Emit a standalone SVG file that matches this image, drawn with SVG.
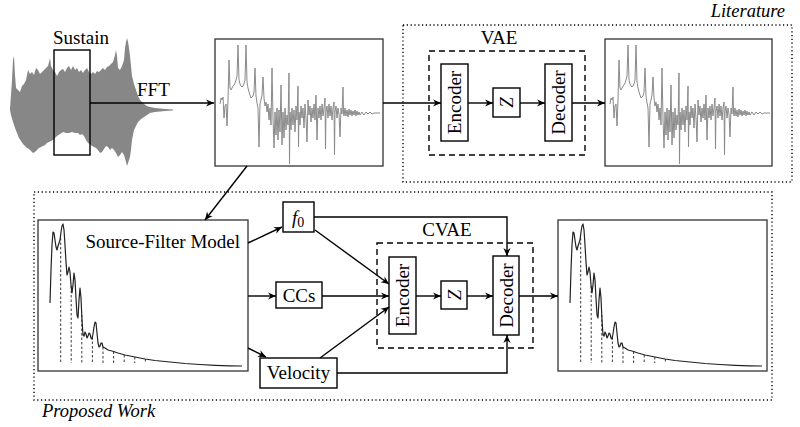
<svg xmlns="http://www.w3.org/2000/svg" xmlns:xlink="http://www.w3.org/1999/xlink" width="800" height="427" viewBox="0 0 800 427">
<style>
  text { font-family: "Liberation Serif", "Times New Roman", serif; font-size: 19px; fill: #000; }
  .it { font-style: italic; }
  .lbl { font-size: 18.5px; }
  .node { fill: #fff; stroke: #000; stroke-width: 1.4; }
  .spec { fill: #fff; stroke: #333; stroke-width: 1.3; }
  .dash { fill: none; stroke: #000; stroke-width: 1.4; stroke-dasharray: 6 4; }
  .dot { fill: none; stroke: #000; stroke-width: 1.4; stroke-dasharray: 1.2 2.6; }
  .conn { fill: none; stroke: #000; stroke-width: 1.4; marker-end: url(#arr); }
  .noise { fill: none; stroke: #8a8a8a; stroke-width: 1; stroke-linejoin: round; }
  .env { fill: none; stroke: #222; stroke-width: 1.2; stroke-linejoin: round; }
  .harm { fill: none; stroke: #222; stroke-width: 0.9; stroke-dasharray: 2.5 2; }
</style>
<defs>
  <marker id="arr" viewBox="-9 -5 10 10" refX="0" refY="0" markerWidth="10" markerHeight="10" markerUnits="userSpaceOnUse" orient="auto">
    <path d="M0,0 L-8,-3.6 L-5.5,0 L-8,3.6 Z" fill="#000"/>
  </marker>
  <g id="noisySpec">
    <polyline class="noise" points="220,104 221,98 222,100 223,97 224,118 225,106 226,104 227,126 228,100 229,60 230,88 231,90 232,88 233,86 234,85 235,83 236,80 237,76 238,45 239,80 240,84 241,86 242,87 243,86 244,84 245,80 246,45 247,82 248,88 249,92 250,95 251,98 252,97 253,96 254,92 255,68 256,96 257,103 258,108 259,147 260,104 261,100 262,95 263,77 264,98 265,106 266,102 267,112 268,104 269,120 270,108 271,125 272,68 273,118 274,148 275,112 276,135 277,108 278,140 279,110 280,132 281,85 282,145 283,112 284,138 285,108 286,130 287,115 288,125 289,73 289.5,164 290,112 291,130 292,108 293,125 294,110 295,132 296,106 297,120 298,86 298.5,147 299,112 300,125 301,106 302,118 303,108 304,128 305,104 306,118 307,142 308,100 309,115 310,106 311,122 312,108 313,118 314,104 315,120 316,95 317,140 318,108 319,118 320,106 321,120 322,104 323,116 324,108 325,98 325.5,149 326,112 327,106 328,118 329,104 330,116 331,106 332,120 333,108 334,102 334.5,155 335,112 336,106 337,118 338,108 339,114 340,137 341,108 342,114 343,87 343.5,112 344,116 345,108 346,116 347,110 348,117 349,109 350,115 351,110 352,116 353,111 354,115 355,110 356,116 357,111 358,115 359,112 360,115 362,112 364,115 366,112 368,114 370,112 372,114 374,113 377,113 380,113"/>
  </g>
  <g id="envSpec">
    <polyline class="env" points="50,303 51,270 52,245 53,232 54,233 55,240 56,247 57,250 58,246 59,243 60,240 61,232 62,226 63,224 64,230 65,245 66,262 67,275 68,272 69,267 70,272 71,285 72,293 73,285 74,273 75,280 76,298 77,315 78,318 79,300 80,288 81,298 82,320 83,335 84,336 85,332 86,334 87,338 88,336 89,333 90,334 91,338 92,339 93,334 94,327 95,322 96,323 97,333 98,343 99,347 100,346 101,343 102,343 103,347 105,348 108,350 112,351 118,353 125,355 135,357 145,359 155,360.5 170,362 185,363.5 200,364.5 215,365.3 230,365.8 242,366"/>
    <path class="harm" d="M60.7,238 V363 M71.2,286 V363 M81.8,315 V363 M92.4,337 V363 M103,347 V363 M113.6,351.5 V363 M124.2,355 V363 M134.8,357 V363 M145.4,359 V363"/>
  </g>
</defs>

<!-- region frames -->
<g id="literature">
  <rect class="dot" x="403" y="25" width="389" height="157"/>
  <text class="it lbl" x="785" y="17" text-anchor="end">Literature</text>
</g>
<g id="proposed-work">
  <rect class="dot" x="34" y="192" width="738" height="208"/>
  <text class="it lbl" x="42" y="417">Proposed Work</text>
</g>

<!-- waveform -->
<g id="waveform">
  <polygon fill="#878787" points="10,108 11,95 12,80 13,60 14,56 15,75 16,88 18,90 20,92 22,86 24,84 26,80 28,70 30,74 32,72 34,75 36,68 38,70 40,74 42,72 44,70 46,68 48,66 50,58 51,66 53,70 55,72 57,76 59,72 61,70 63,69 65,72 67,68 69,66 71,70 73,66 75,70 77,68 79,72 81,70 83,73 85,70 87,68 89,72 91,74 93,72 95,74 97,71 99,72 101,70 103,68 105,70 107,67 109,66 111,64 113,62 115,55 116,50 117,56 118,68 120,70 122,66 124,60 125,48 126,42 127,38 128,42 129,48 130,56 132,76 134,84 136,90 138,96 140,100 142,102 144,104 147,106 150,107 155,108 160,108.5 165,109 173,109.5 173,110.5 165,111 160,111.5 155,112 150,113 147,115 144,117 141,119 138,122 136,126 134,130 132,140 131,150 130,157 128,163 127,166 126,162 124,155 122,152 120,155 118,157 116,153 114,150 112,148 110,150 108,147 106,146 104,149 102,152 100,153 98,150 96,148 94,147 92,146 90,144 88,143 86,140 84,136 82,134 80,135 78,133 75,133 72,132 69,133 66,133 63,132 60,134 57,136 55,138 53,140 51,141 49,142 47,143 45,145 43,146 41,147 39,148 37,150 35,152 33,153 31,151 29,149 27,148 25,146 23,144 21,141 19,138 17,133 15,128 13,122 11,115 10,110"/>
</g>
<g id="sustain">
  <rect x="54" y="50" width="36" height="105" fill="none" stroke="#000" stroke-width="1.4"/>
  <text x="81" y="44" text-anchor="middle">Sustain</text>
</g>
<text id="fft-label" x="137" y="96">FFT</text>

<!-- spectra -->
<g id="spectrum-fft">
  <rect class="spec" x="215" y="39" width="168" height="127"/>
  <use xlink:href="#noisySpec" href="#noisySpec"/>
</g>
<g id="spectrum-vae-out">
  <rect class="spec" x="605" y="39" width="167" height="127"/>
  <use xlink:href="#noisySpec" href="#noisySpec" transform="translate(390,0)"/>
</g>

<!-- VAE -->
<g id="vae">
  <rect class="dash" x="429" y="51" width="156" height="104"/>
  <text x="499" y="44" text-anchor="middle">VAE</text>
</g>
<g id="vae-encoder">
  <rect class="node" x="441" y="64" width="27" height="77"/>
  <text transform="translate(454.5,102.5) rotate(-90)" text-anchor="middle" y="6.5">Encoder</text>
</g>
<g id="vae-z">
  <rect class="node" x="493" y="88" width="27" height="29"/>
  <text class="it" transform="translate(506.5,102.5) rotate(-90)" text-anchor="middle" y="6.5">Z</text>
</g>
<g id="vae-decoder">
  <rect class="node" x="545" y="64" width="27" height="77"/>
  <text transform="translate(558.5,102.5) rotate(-90)" text-anchor="middle" y="6.5">Decoder</text>
</g>

<!-- Source-filter model -->
<g id="source-filter">
  <rect class="spec" x="38" y="220" width="210" height="151"/>
  <use xlink:href="#envSpec" href="#envSpec"/>
  <text x="240" y="248" text-anchor="end">Source-Filter Model</text>
</g>
<g id="spectrum-cvae-out">
  <rect class="spec" x="558" y="220" width="209" height="151"/>
  <use xlink:href="#envSpec" href="#envSpec" transform="translate(520,0)"/>
</g>

<g id="f0">
  <rect class="node" x="283" y="202" width="31" height="30"/>
  <text class="it" x="292" y="224">f<tspan class="" style="font-style:normal;font-size:14px" dy="3">0</tspan></text>
</g>
<g id="ccs">
  <rect class="node" x="276" y="282" width="46" height="26"/>
  <text x="299" y="302" text-anchor="middle">CCs</text>
</g>
<g id="velocity">
  <rect class="node" x="260" y="358" width="77" height="30"/>
  <text x="298.5" y="379" text-anchor="middle">Velocity</text>
</g>

<!-- CVAE -->
<g id="cvae">
  <rect class="dash" x="377" y="243" width="156" height="105"/>
  <text x="447" y="236" text-anchor="middle">CVAE</text>
</g>
<g id="cvae-encoder">
  <rect class="node" x="389" y="257" width="27" height="77"/>
  <text transform="translate(402.5,295.5) rotate(-90)" text-anchor="middle" y="6.5">Encoder</text>
</g>
<g id="cvae-z">
  <rect class="node" x="441" y="281" width="26" height="28"/>
  <text class="it" transform="translate(454,295) rotate(-90)" text-anchor="middle" y="6.5">Z</text>
</g>
<g id="cvae-decoder">
  <rect class="node" x="493" y="256" width="26" height="79"/>
  <text transform="translate(506,295.5) rotate(-90)" text-anchor="middle" y="6.5">Decoder</text>
</g>

<!-- connectors -->
<g id="connectors">
  <path class="conn" d="M90,103 H214"/>
  <path class="conn" d="M383,103 H441"/>
  <path class="conn" d="M468,103 H493"/>
  <path class="conn" d="M520,103 H545"/>
  <path class="conn" d="M572,103 H605"/>
  <path class="conn" d="M247,166 L205,220"/>
  <path class="conn" d="M248,243 L282,227"/>
  <path class="conn" d="M248,296 H276"/>
  <path class="conn" d="M248,348 L266,357"/>
  <path class="conn" d="M314,217 H507 V256"/>
  <path class="conn" d="M315,230 L389,284"/>
  <path class="conn" d="M322,296 H389"/>
  <path class="conn" d="M320,358 L389,307"/>
  <path class="conn" d="M337,373 H507 V335"/>
  <path class="conn" d="M416,296 H441"/>
  <path class="conn" d="M467,296 H493"/>
  <path class="conn" d="M519,296 H558"/>
</g>
</svg>
